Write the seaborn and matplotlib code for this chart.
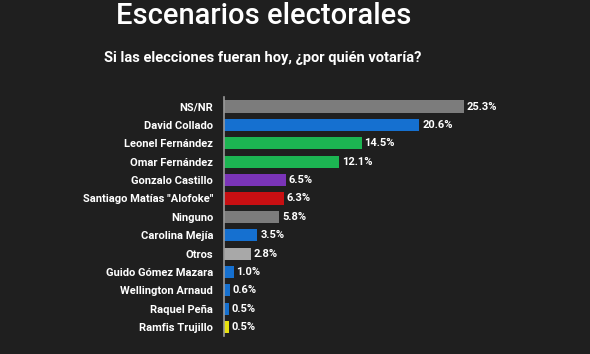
import matplotlib
matplotlib.use("Agg")
import matplotlib.pyplot as plt
import seaborn as sns
import pandas as pd

# Survey data
candidates = ["NS/NR", "David Collado", "Leonel Fernández", "Omar Fernández",
              "Gonzalo Castillo", 'Santiago Matías "Alofoke"', "Ninguno",
              "Carolina Mejía", "Otros", "Guido Gómez Mazara", "Wellington Arnaud",
              "Raquel Peña", "Ramfis Trujillo"]
votes = [25.3, 20.6, 14.5, 12.1, 6.5, 6.3, 5.8, 3.5, 2.8, 1.0, 0.6, 0.5, 0.5]
colors = ["#7c7c7c", "#1570d0", "#1cb552", "#1cb552", "#7a34b8", "#c80f12",
          "#7c7c7c", "#1570d0", "#a8a8a8", "#1570d0", "#1570d0", "#1570d0", "#e6e010"]

df = pd.DataFrame({"candidate": candidates, "votes": votes})

bg = "#1f1f1f"
sns.set_theme(style="dark")
plt.rcParams["font.family"] = ["Roboto", "DejaVu Sans"]

fig = plt.figure(figsize=(5.9, 3.54), dpi=100, facecolor=bg)
ax = fig.add_axes([0.38, 0.05, 0.57, 0.675])
ax.set_facecolor(bg)

sns.barplot(data=df, x="votes", y="candidate", hue="candidate", palette=colors,
            legend=False, width=0.66, ax=ax, saturation=1, linewidth=0)

for i, v in enumerate(votes):
    ax.text(v + 0.3, i, f"{v:.1f}%", va="center", ha="left", color="white",
            fontsize=8, fontweight="bold")

ax.set_xlim(0, 35.5)
ax.set_ylim(len(candidates) - 0.5, -0.5)
ax.set_xlabel("")
ax.set_ylabel("")
ax.set_xticks([])
ax.tick_params(axis="y", colors="white", labelsize=8, length=0, pad=8)
for lbl in ax.get_yticklabels():
    lbl.set_fontweight("bold")
for s in ["top", "right", "bottom"]:
    ax.spines[s].set_visible(False)
ax.spines["left"].set_color("#9a9a9a")
ax.spines["left"].set_linewidth(1.2)

fig.text(0.447, 0.955, "Escenarios electorales", ha="center", va="center",
         color="white", fontsize=21, fontweight="medium")
fig.text(0.445, 0.835, "Si las elecciones fueran hoy, ¿por quién votaría?",
         ha="center", va="center", color="white", fontsize=10.5, fontweight="bold")

fig.savefig("out.png", dpi=100, facecolor=bg)
